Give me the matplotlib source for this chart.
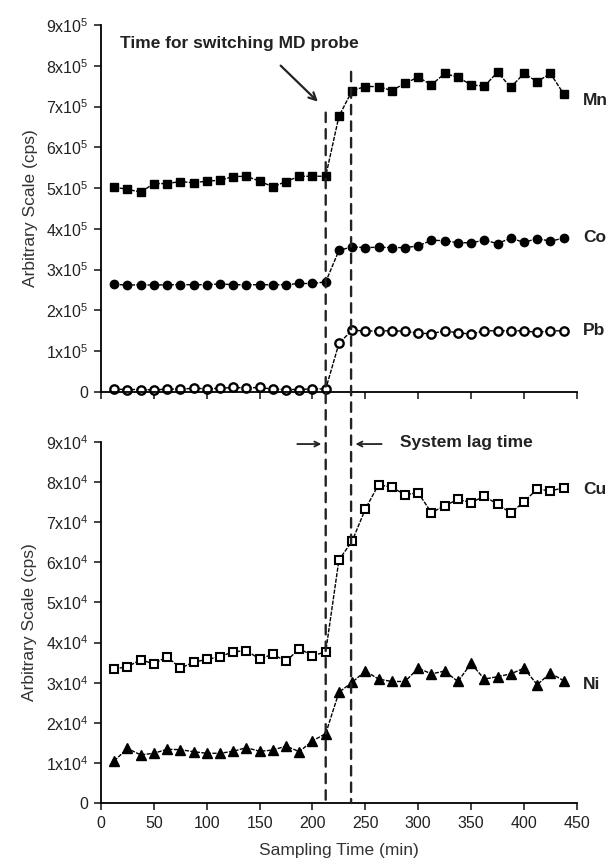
import matplotlib
matplotlib.use("Agg")
import matplotlib.pyplot as plt
from matplotlib.patches import ConnectionPatch
from matplotlib.ticker import FixedLocator, FixedFormatter

plt.rcParams['font.family'] = ['Liberation Sans', 'DejaVu Sans']
plt.rcParams['mathtext.fontset'] = 'custom'
plt.rcParams['mathtext.rm'] = 'Liberation Sans'

time = [12.5 * i for i in range(1, 36)]

mn = [5.02, 4.97, 4.90, 5.11, 5.11, 5.16, 5.13, 5.17, 5.19, 5.28, 5.29, 5.17, 5.03, 5.16, 5.29, 5.29, 5.29,
      6.76, 7.39, 7.49, 7.49, 7.39, 7.57, 7.72, 7.53, 7.81, 7.72, 7.53, 7.50, 7.84, 7.47, 7.81, 7.61, 7.81, 7.31]
co = [2.64, 2.62, 2.63, 2.62, 2.63, 2.63, 2.63, 2.63, 2.65, 2.63, 2.63, 2.63, 2.63, 2.63, 2.66, 2.66, 2.70,
      3.47, 3.56, 3.54, 3.55, 3.54, 3.54, 3.58, 3.72, 3.71, 3.66, 3.66, 3.72, 3.64, 3.77, 3.67, 3.76, 3.70, 3.77]
pb = [0.07, 0.06, 0.06, 0.05, 0.07, 0.07, 0.09, 0.08, 0.09, 0.11, 0.10, 0.11, 0.07, 0.06, 0.06, 0.08, 0.07,
      1.19, 1.52, 1.49, 1.50, 1.50, 1.49, 1.44, 1.43, 1.50, 1.45, 1.42, 1.50, 1.50, 1.50, 1.50, 1.46, 1.50, 1.50]
cu = [3.34, 3.40, 3.57, 3.47, 3.65, 3.36, 3.51, 3.58, 3.65, 3.77, 3.80, 3.59, 3.71, 3.53, 3.85, 3.67, 3.77,
      6.06, 6.53, 7.33, 7.94, 7.87, 7.69, 7.73, 7.24, 7.41, 7.57, 7.49, 7.65, 7.45, 7.23, 7.51, 7.83, 7.78, 7.86]
ni = [1.05, 1.36, 1.20, 1.24, 1.34, 1.33, 1.28, 1.24, 1.24, 1.29, 1.38, 1.29, 1.32, 1.42, 1.28, 1.55, 1.73,
      2.76, 3.01, 3.29, 3.09, 3.03, 3.03, 3.36, 3.22, 3.29, 3.03, 3.48, 3.09, 3.15, 3.22, 3.36, 2.95, 3.24, 3.05]

top_scale = 1e5
bot_scale = 1e4
top_ticks = [0, 1, 2, 3, 4, 5, 6, 7, 8, 9]
bot_ticks = [0, 1, 2, 3, 4, 5, 6, 7, 8, 9]
x_ticks = [0, 50, 100, 150, 200, 250, 300, 350, 400, 450]
switch_times = [212.5, 236.5]

fig = plt.figure(figsize=(6.14, 8.63), dpi=100)
ax1 = fig.add_axes([0.1645, 0.5458, 0.775, 0.4253])
ax2 = fig.add_axes([0.1645, 0.0695, 0.775, 0.4183])

ls = (0, (3, 1))
mk = dict(color='black', lw=1.0, linestyle=ls, markersize=6, clip_on=False)
ax1.plot(time, [v * top_scale for v in mn], marker='s', markerfacecolor='black', markeredgecolor='black', **mk)
ax1.plot(time, [v * top_scale for v in co], marker='o', markerfacecolor='black', markeredgecolor='black', **mk)
ax1.plot(time, [v * top_scale for v in pb], marker='o', markerfacecolor='white', markeredgecolor='black',
         markeredgewidth=1.7, **mk)
ax2.plot(time, [v * bot_scale for v in cu], marker='s', markerfacecolor='white', markeredgecolor='black',
         markeredgewidth=1.5, **dict(mk, markersize=5.5))
ax2.plot(time, [v * bot_scale for v in ni], marker='^', markerfacecolor='black', markeredgecolor='black',
         **dict(mk, markersize=7))


def fmt(v, e):
    return '0' if v == 0 else r'$\mathregular{%dx10^{%d}}$' % (v, e)


for ax, scale, ticks, e in [(ax1, top_scale, top_ticks, 5), (ax2, bot_scale, bot_ticks, 4)]:
    ax.set_xlim(0, 450)
    ax.set_ylim(0, 9 * scale)
    ax.spines['top'].set_visible(False)
    ax.spines['right'].set_visible(False)
    ax.spines['left'].set_linewidth(1.3)
    ax.spines['bottom'].set_linewidth(1.3)
    ax.yaxis.set_major_locator(FixedLocator([t * scale for t in ticks]))
    ax.yaxis.set_major_formatter(FixedFormatter([fmt(t, e) for t in ticks]))
    ax.xaxis.set_major_locator(FixedLocator(x_ticks))
    ax.tick_params(direction='out', length=5, width=1.2, labelsize=11.5, colors='#222222', pad=4)
    ax.set_ylabel('Arbitrary Scale (cps)', fontsize=12.5, color='#333333', labelpad=6)

ax1.set_xticklabels([])
ax2.set_xlabel('Sampling Time (min)', fontsize=12.5, color='#333333', labelpad=9)

# dashed vertical lines spanning both panels
for xt, ytop in zip(switch_times, [6.85e5, 7.85e5]):
    con = ConnectionPatch(xyA=(xt, ytop), coordsA=ax1.transData,
                          xyB=(xt, 0), coordsB=ax2.transData,
                          linestyle=(0, (4, 3)), linewidth=1.7, color='#222222')
    fig.add_artist(con)

# annotations
ax1.annotate('', xy=(207, 7.07e5), xytext=(168, 8.05e5),
             arrowprops=dict(arrowstyle='->', lw=1.6, color='#222222', mutation_scale=13))
ax1.text(18, 8.55e5, 'Time for switching MD probe', fontsize=12.5, fontweight='bold',
         color='#222222', va='center', ha='left')

ax2.annotate('', xy=(211, 8.95e4), xytext=(183, 8.95e4),
             arrowprops=dict(arrowstyle='->', lw=1.3, color='#222222', mutation_scale=9), annotation_clip=False)
ax2.annotate('', xy=(238, 8.95e4), xytext=(268, 8.95e4),
             arrowprops=dict(arrowstyle='->', lw=1.3, color='#222222', mutation_scale=9), annotation_clip=False)
ax2.text(283, 9.0e4, 'System lag time', fontsize=12.5, fontweight='bold', color='#222222',
         va='center', ha='left', clip_on=False)

for ax, name, y in [(ax1, 'Mn', 7.15e5), (ax1, 'Co', 3.78e5), (ax1, 'Pb', 1.51e5),
                    (ax2, 'Cu', 7.81e4), (ax2, 'Ni', 2.96e4)]:
    ax.text(456, y, name, fontsize=12.5, fontweight='bold', color='#222222',
            va='center', ha='left', clip_on=False)

fig.savefig('out.png', dpi=100)
